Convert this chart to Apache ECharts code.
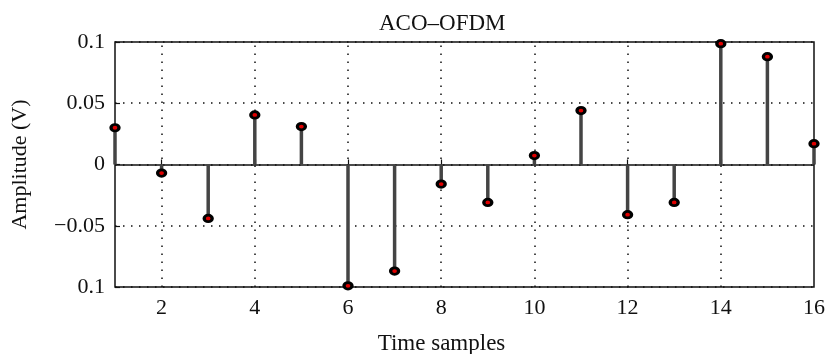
<!DOCTYPE html>
<html><head><meta charset="utf-8">
<script src="https://cdn.jsdelivr.net/npm/echarts@6/dist/echarts.min.js"></script>
<style>html,body{margin:0;padding:0;background:#fff;}#c{width:827px;height:354px;}</style>
</head><body><div id="c"></div>
<script>
const samples = [1,2,3,4,5,6,7,8,9,10,11,12,13,14,15,16];
const amplitudes = [0.030,-0.007,-0.044,0.0405,0.031,-0.099,-0.087,-0.016,-0.031,0.0073,0.044,-0.041,-0.031,0.0986,0.088,0.017];
const xTicks = [2,4,6,8,10,12,14,16];
const xGrid = [2,4,6,8,10,12,14];
const yTicks = [-0.1,-0.05,0,0.05,0.1];
const yTickLabels = ['0.1','\u22120.05','0','0.05','0.1'];

const pts = samples.map((x,i)=>[x, amplitudes[i]]);
const font = 'Liberation Serif';
const chart = echarts.init(document.getElementById('c'), null, {renderer:'canvas'});
chart.setOption({
  animation:false,
  backgroundColor:'#fff',
  title:{text:'ACO\u2013OFDM', left:374, top:7, textStyle:{fontFamily:font, fontSize:23, fontWeight:'normal', color:'#111'}},
  grid:{left:115, right:13, top:42, bottom:67, containLabel:false, outerBoundsMode:'none',
    show:true, borderColor:'#111', borderWidth:1.5, backgroundColor:'transparent'},
  xAxis:{type:'value', min:1, max:16, interval:1,
    name:'Time samples', nameLocation:'middle', nameGap:45,
    nameTextStyle:{fontFamily:font, fontSize:23, color:'#111', padding:[0,0,0,-46]},
    axisLine:{show:false},
    axisTick:{show:true, inside:true, length:5, customValues:xTicks, lineStyle:{color:'#111', width:1.2}},
    axisLabel:{customValues:xTicks, fontFamily:font, fontSize:22, color:'#111', margin:10},
    splitLine:{show:false}},
  yAxis:{type:'value', min:-0.1, max:0.1, interval:0.05,
    name:'Amplitude (V)', nameLocation:'middle', nameGap:84,
    nameTextStyle:{fontFamily:font, fontSize:22, color:'#111'},
    axisLine:{show:false},
    axisTick:{show:true, inside:true, length:5, lineStyle:{color:'#111', width:1.2}},
    axisLabel:{fontFamily:font, fontSize:22, color:'#111', margin:10,
      formatter:function(v){const k=yTicks.findIndex(t=>Math.abs(t-v)<1e-9);return k>=0?yTickLabels[k]:'';}},
    splitLine:{show:true, lineStyle:{color:'#111', width:1.5, type:[1.5,6.5]}}},
  series:[
    {type:'bar', data:pts, barWidth:3.5, itemStyle:{color:'#444'}, silent:true, z:2,
     markLine:{silent:true, symbol:'none', label:{show:false},
       data:[{yAxis:0, lineStyle:{color:'#111', width:1.6, type:'solid'}}].concat(
         xGrid.map(x=>({xAxis:x, lineStyle:{color:'#111', width:1.5, type:[1.5,6.5]}}))), z:1}},
    {type:'scatter', data:pts, symbol:'circle', symbolSize:[8,6.5],
     itemStyle:{color:'#e00000', borderColor:'#000', borderWidth:3, opacity:1}, z:5, silent:true}
  ]
});
</script></body></html>
